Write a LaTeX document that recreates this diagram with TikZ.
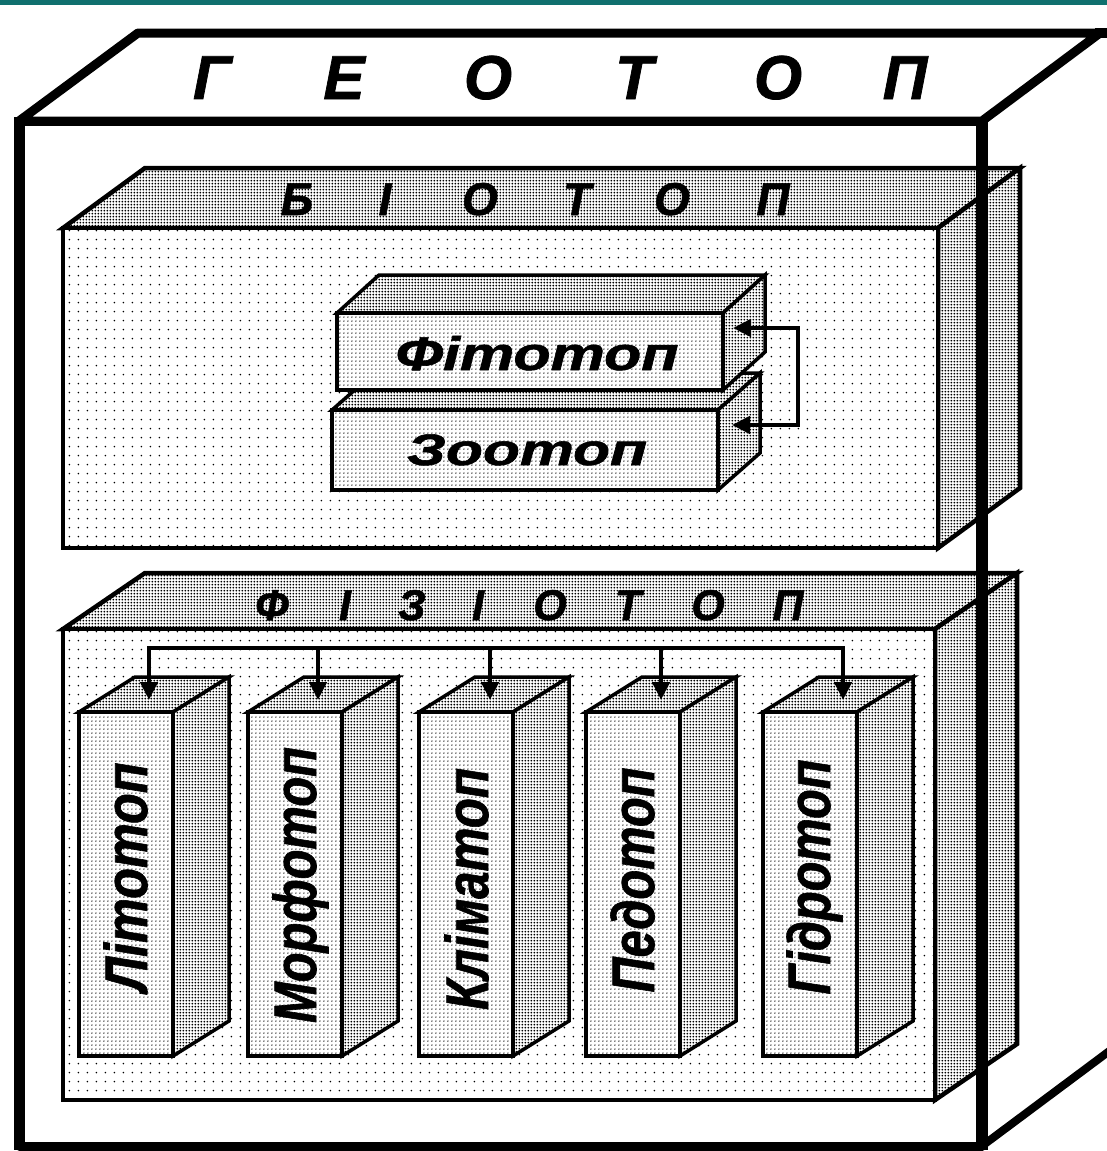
\documentclass[tikz,border=0pt]{standalone}
\usepackage{fontspec}
\setmainfont{Liberation Sans}[BoldItalicFeatures={FakeBold=1.2}]
\usetikzlibrary{patterns,arrows.meta}
\pgfdeclarepatternformonly{sparsedots}{\pgfqpoint{0pt}{0pt}}{\pgfqpoint{9.4pt}{9.4pt}}{\pgfqpoint{9.4pt}{9.4pt}}{\pgfpathcircle{\pgfqpoint{4.7pt}{4.7pt}}{0.95pt}\pgfusepath{fill}}
\pgfdeclarepatternformonly{meddots}{\pgfqpoint{0pt}{0pt}}{\pgfqpoint{4.4pt}{4.4pt}}{\pgfqpoint{4.4pt}{4.4pt}}{\pgfpathcircle{\pgfqpoint{2.2pt}{2.2pt}}{0.8pt}\pgfusepath{fill}}
\pgfdeclarepatternformonly{densedots}{\pgfqpoint{0pt}{0pt}}{\pgfqpoint{2.8pt}{2.8pt}}{\pgfqpoint{2.8pt}{2.8pt}}{\pgfpathcircle{\pgfqpoint{1.4pt}{1.4pt}}{1.05pt}\pgfusepath{fill}}
\definecolor{barteal}{RGB}{16,112,110}
% #1 x, #2 y (front top-left), #3 w, #4 h, #5 dx, #6 dy, #7 front pattern, #8 line width
\newcommand\cuboid[8]{%
  \filldraw[line width=#8, fill=white, postaction={pattern=densedots}] (#1,#2) -- ++(#5,-#6) -- ++(#3,0) -- ++(-#5,#6) -- cycle;
  \filldraw[line width=#8, fill=white, postaction={pattern=densedots}] (#1+#3,#2) -- ++(#5,-#6) -- ++(0,#4) -- ++(-#5,#6) -- cycle;
  \filldraw[line width=#8, fill=white, postaction={pattern=#7}] (#1,#2) rectangle ++(#3,#4);
}
\tikzset{
  geoline/.style={line width=9pt, line join=round},
  gl/.style={anchor=base, inner sep=0pt, font=\fontsize{62}{62}\selectfont\bfseries\itshape},
  bl/.style={anchor=base, inner sep=0pt, font=\fontsize{46}{46}\selectfont\bfseries\itshape},
  fl/.style={anchor=base, inner sep=0pt, font=\fontsize{43}{43}\selectfont\bfseries\itshape},
  sl/.style={anchor=base, inner sep=0pt, font=\fontsize{47}{47}\selectfont\bfseries\itshape},
  cl/.style={anchor=base, rotate=90, inner sep=0pt, font=\fontsize{60}{60}\selectfont\bfseries\itshape},
  conn/.style={line width=4.5pt, line join=miter},
  tip/.tip={Triangle[length=18pt,width=17pt]}
}
\begin{document}
\begin{tikzpicture}[x=1pt,y=-1pt]
\useasboundingbox (0,0) rectangle (1107,1151);
\fill[barteal] (0,0) rectangle (1107,5);
% Geotop
\draw[geoline] (19,121) -- (138,33) -- (1100,33) -- (982,121) -- cycle;
\draw[line width=10pt] (1095,33) -- (1112,33);
\draw[geoline] (19,121) rectangle (982,1146);
\draw[line width=11pt] (19,117) -- (19,1150);
\draw[line width=8pt] (982,1146) -- (1100,1058) -- (1120,1043);
\node[gl] (g1) at (212,99) {Г};
\node[gl] (g2) at (344,99) {Е};
\node[gl] (g3) at (488,99) {О};
\node[gl] (g4) at (634,99) {Т};
\node[gl] (g5) at (778,99) {О};
\node[gl] (g6) at (905,99) {П};
% Biotop
\cuboid{63}{228}{875}{320}{82}{60}{sparsedots}{4.5pt}
\node[bl] (b1) at (297,215) {Б};
\node[bl] (b2) at (385,215) {І};
\node[bl] (b3) at (480,215) {О};
\node[bl] (b4) at (577,215) {Т};
\node[bl] (b5) at (672,215) {О};
\node[bl] (b6) at (773,215) {П};
\cuboid{332}{410}{386}{80}{42}{37}{meddots}{3.5pt}
\cuboid{337}{313}{386}{77}{42}{38}{meddots}{3.5pt}
\node[sl] (fito) at (537,370) {\resizebox{283pt}{\height}{Фітотоп}};
\node[sl, font=\fontsize{44}{44}\selectfont\bfseries\itshape] (zoo) at (527,465) {\resizebox{240pt}{\height}{Зоотоп}};
\coordinate (fitoIn) at (733,328);
\coordinate (zooIn) at (732,425);
\draw[conn, {tip}-{tip}] (fitoIn) -- (798,328) |- (zooIn);
% Fiziotop
\cuboid{63}{629}{872}{471}{82}{56}{sparsedots}{4.5pt}
\node[fl] (f1) at (272,620) {Ф};
\node[fl] (f2) at (345,620) {І};
\node[fl] (f3) at (412,620) {З};
\node[fl] (f4) at (478,620) {І};
\node[fl] (f5) at (550,620) {О};
\node[fl] (f6) at (628,620) {Т};
\node[fl] (f7) at (708,620) {О};
\node[fl] (f8) at (788,620) {П};
\cuboid{79}{712}{94}{344}{56}{35}{meddots}{3.5pt}
\cuboid{248}{712}{94}{344}{56}{35}{meddots}{3.5pt}
\cuboid{419}{712}{94}{344}{56}{35}{meddots}{3.5pt}
\cuboid{586}{712}{94}{344}{56}{35}{meddots}{3.5pt}
\cuboid{763}{712}{94}{344}{56}{35}{meddots}{3.5pt}
\node[cl] (c1) at (147,877) {\resizebox{229pt}{\height}{Літотоп}};
\node[cl] (c2) at (316,885) {\resizebox{276pt}{\height}{Морфотоп}};
\node[cl] (c3) at (488,889) {\resizebox{242pt}{\height}{Кліматоп}};
\node[cl] (c4) at (654,880) {\resizebox{225pt}{\height}{Педотоп}};
\node[cl] (c5) at (830,877) {\resizebox{235pt}{\height}{Гідротоп}};
\coordinate (bus) at (0,648);
\coordinate (t1) at (149,700);
\coordinate (t2) at (318,700);
\coordinate (t3) at (490,700);
\coordinate (t4) at (661,700);
\coordinate (t5) at (843,700);
\draw[conn, {tip}-{tip}] (t1) -- (t1 |- bus) -- (t5 |- bus) -- (t5);
\draw[conn, -{tip}] (t2 |- bus) -- (t2);
\draw[conn, -{tip}] (t3 |- bus) -- (t3);
\draw[conn, -{tip}] (t4 |- bus) -- (t4);
% Geotop front right edge over inner boxes
\draw[line width=12pt] (982,117) -- (982,1150);
\end{tikzpicture}
\end{document}
